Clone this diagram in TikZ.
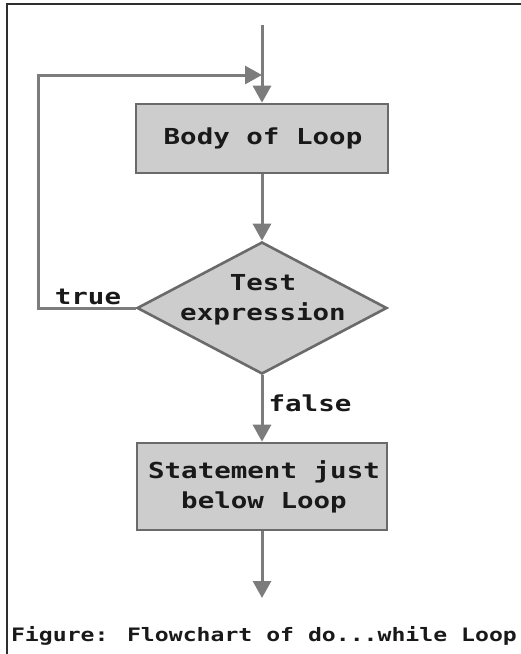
\documentclass[tikz,border=0pt]{standalone}
\usepackage{fontspec}
\usetikzlibrary{arrows.meta,shapes.geometric}
\newfontfamily\monobold[UprightFont=* Bold,FakeStretch=1.25]{DejaVu Sans Mono}
\definecolor{linegray}{HTML}{7C7C7C}
\definecolor{boxfill}{HTML}{CDCDCD}
\definecolor{boxedge}{HTML}{6A6A6A}
\definecolor{framecol}{HTML}{2E2E2E}
\begin{document}
\begin{tikzpicture}[x=1pt,y=-1pt,
  flow/.style={draw=linegray,line width=3pt,
    -{Triangle[length=17pt,width=18pt]}},
  wire/.style={draw=linegray,line width=3pt},
  procbox/.style={rectangle,draw=boxedge,fill=boxfill,line width=2.6pt,
    inner sep=0pt},
  decision/.style={diamond,draw=boxedge,fill=boxfill,line width=2.6pt,
    inner sep=0pt,minimum width=250pt,minimum height=132pt},
  lbl/.style={font=\monobold\fontsize{22}{30}\selectfont,text=black!90,
    align=center,inner sep=0pt},
  captiontext/.style={font=\monobold\fontsize{18.5}{22}\selectfont,text=black!90,
    inner sep=0pt}]
  \useasboundingbox (0,0) rectangle (521,654);

  % partial outer frame
  \draw[framecol,line width=2pt] (7,654) -- (7,4) -- (521,4);

  % shapes
  \node[procbox,minimum width=252pt,minimum height=69pt] (body) at (262,138.5) {};
  \node[lbl] (bodytxt) at (263,138.5) {Body of Loop};
  \node[decision] (test) at (262,308) {};
  \node[lbl] (testtxt) at (263,300) {Test\\expression};
  \node[procbox,minimum width=250pt,minimum height=87pt] (stmt) at (262,486.5) {};
  \node[lbl] (stmttxt) at (264,487) {Statement just\\below Loop};

  % helper points
  \coordinate (start) at (262,25);
  \coordinate (join) at (262,75);
  \coordinate (back) at (38,75);
  \coordinate (finish) at (262,598);

  % connectors
  \draw[wire] (start) -- (join);
  \draw[flow] (join) -- (body.north);
  \draw[flow] (test.west) -| (back) -- (join);
  \draw[flow] (body.south) -- (test.north);
  \draw[flow] (test.south) -- (stmt.north);
  \draw[flow] (stmt.south) -- (finish);

  % labels
  \node[lbl] (truelbl) at (88,297) {true};
  \node[lbl] (falselbl) at (310,403) {false};
  \node[captiontext] (caption) at (264,636) {Figure: Flowchart of do...while Loop};
\end{tikzpicture}
\end{document}
